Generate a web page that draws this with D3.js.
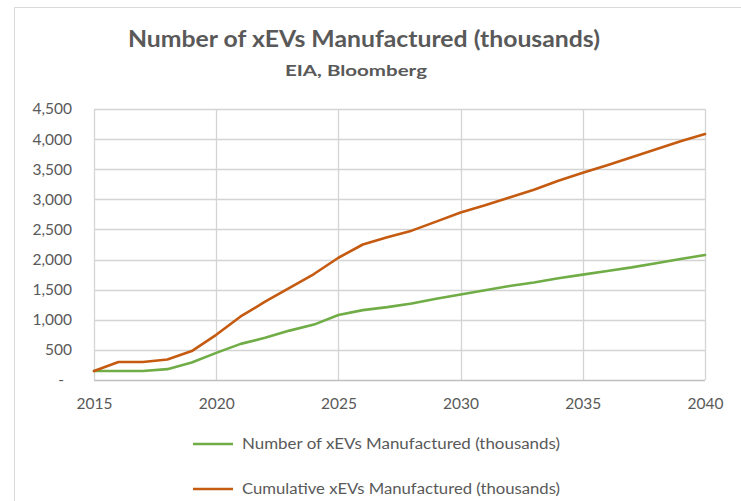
<!DOCTYPE html>
<html>
<head>
<meta charset="utf-8">
<script src="https://cdn.jsdelivr.net/npm/d3@7"></script>
<style>
html,body{margin:0;padding:0;background:#fff;}
svg{display:block;font-family:Lato,"Open Sans",sans-serif;}
</style>
</head>
<body>
<svg id="chart" width="741" height="501"></svg>
<script>
const years = [2015,2016,2017,2018,2019,2020,2021,2022,2023,2024,2025,2026,2027,2028,2029,2030,2031,2032,2033,2034,2035,2036,2037,2038,2039,2040];
const annual = [150,150,150,180,290,450,600,700,820,920,1080,1160,1210,1270,1350,1420,1490,1560,1620,1690,1750,1810,1870,1940,2010,2075];
const cumulative = [150,300,300,340,480,750,1055,1300,1530,1760,2030,2250,2370,2480,2630,2780,2900,3030,3160,3310,3440,3565,3700,3830,3965,4085];
const seriesNames = ["Number of xEVs Manufactured (thousands)","Cumulative xEVs Manufactured (thousands)"];
const seriesColors = ["#70ad47","#c55a11"];
const yTicks = [0,500,1000,1500,2000,2500,3000,3500,4000,4500];
const xTicks = [2015,2020,2025,2030,2035,2040];
const titleText = "Number of xEVs Manufactured (thousands)";
const subtitleText = "EIA, Bloomberg";

const svg = d3.select("#chart");
const x = d3.scaleLinear().domain([2015,2040]).range([94,705]);
const y = d3.scaleLinear().domain([0,4500]).range([380,109]);

// chart frame
svg.append("path").attr("d","M14.5,501 V7.5 H741").attr("fill","none").attr("stroke","#d9d9d9").attr("stroke-width",1);

// title
svg.append("text").attr("x",364).attr("y",47).attr("text-anchor","middle")
  .attr("font-size",22).attr("font-weight","bold").attr("fill","#595959")
  .attr("textLength",472).attr("lengthAdjust","spacingAndGlyphs").text(titleText);
svg.append("text").attr("x",356).attr("y",76).attr("text-anchor","middle")
  .attr("font-size",16).attr("font-weight","bold").attr("fill","#595959")
  .attr("textLength",142).attr("lengthAdjust","spacingAndGlyphs").text(subtitleText);

// gridlines
const g = svg.append("g");
g.selectAll(".hg").data(yTicks.filter(d=>d>0)).join("line")
  .attr("x1",94).attr("x2",705).attr("y1",d=>Math.round(y(d))+0.5).attr("y2",d=>Math.round(y(d))+0.5)
  .attr("stroke","#d4d4d4").attr("stroke-width",1.3);
g.selectAll(".vg").data(xTicks).join("line")
  .attr("y1",109).attr("y2",380).attr("x1",d=>Math.round(x(d))+0.5).attr("x2",d=>Math.round(x(d))+0.5)
  .attr("stroke","#d4d4d4").attr("stroke-width",1.3);
g.append("line").attr("x1",94).attr("x2",705).attr("y1",380.5).attr("y2",380.5).attr("stroke","#bfbfbf").attr("stroke-width",1.5);

// y axis labels
const yAxis = d3.axisLeft(y).tickValues(yTicks).tickSize(0).tickPadding(0)
  .tickFormat(d => d===0 ? "-" : d3.format(",")(d));
const ya = svg.append("g").attr("transform","translate(72,0)").call(yAxis);
ya.select(".domain").remove();
ya.selectAll("text").attr("font-family","Lato,'Open Sans',sans-serif").attr("font-size",15.5).attr("fill","#595959")
  .attr("dx", d => d===0 ? -8 : 0).attr("dy","0.32em");

// x axis labels
const xAxis = d3.axisBottom(x).tickValues(xTicks).tickSize(0).tickPadding(0).tickFormat(d3.format("d"));
const xa = svg.append("g").attr("transform","translate(0,398)").call(xAxis);
xa.select(".domain").remove();
xa.selectAll("text").attr("font-family","Lato,'Open Sans',sans-serif").attr("font-size",15.5).attr("fill","#595959").attr("dy","0.72em");

// lines
const line = d3.line().x((d,i)=>x(years[i])).y(d=>y(d));
[annual, cumulative].forEach((s,k)=>{
  svg.append("path").datum(s).attr("d",line).attr("fill","none")
    .attr("stroke",seriesColors[k]).attr("stroke-width",2.6).attr("stroke-linejoin","round").attr("stroke-linecap","round");
});

// legend
const legY = [444,489];
seriesNames.forEach((n,k)=>{
  svg.append("line").attr("x1",193).attr("x2",233).attr("y1",legY[k]).attr("y2",legY[k])
    .attr("stroke",seriesColors[k]).attr("stroke-width",2.6);
  svg.append("text").attr("x",242).attr("y",legY[k]).attr("dy","0.35em")
    .attr("font-size",15.5).attr("fill","#595959").attr("textLength",318).attr("lengthAdjust","spacingAndGlyphs").text(n);
});
</script>
</body>
</html>
